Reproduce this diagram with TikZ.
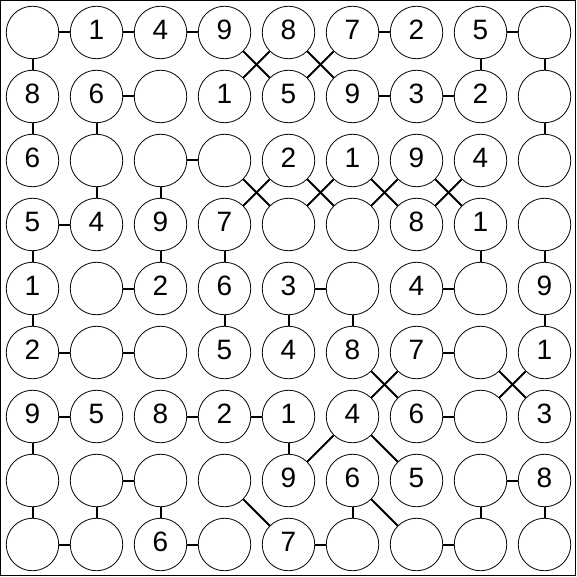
\documentclass[tikz,border=0pt]{standalone}
\usepackage{fontspec}
\setmainfont{Liberation Sans}
\usepackage{tikz}

\begin{document}
\begin{tikzpicture}[x=1pt,y=-1pt]
\useasboundingbox (0,0) rectangle (577,577);
\draw[line width=1pt] (0.5,0.5) rectangle (575.5,575.5);

\begin{scope}[every node/.style={circle,draw,line width=0.8pt,minimum size=52.5pt,
              inner sep=0pt,text depth=6pt,font=\fontsize{28}{28}\selectfont}]
  \foreach \r/\row in {1/{{},1,4,9,8,7,2,5,{}},
                       2/{8,6,{},1,5,9,3,2,{}},
                       3/{6,{},{},{},2,1,9,4,{}},
                       4/{5,4,9,7,{},{},8,1,{}},
                       5/{1,{},2,6,3,{},4,{},9},
                       6/{2,{},{},5,4,8,7,{},1},
                       7/{9,5,8,2,1,4,6,{},3},
                       8/{{},{},{},{},9,6,5,{},8},
                       9/{{},{},6,{},7,{},{},{},{}}}
    \foreach \v [count=\c] in \row
      \node (n\r\c) at (64*\c-31.5,64*\r-31.5) {\v};
\end{scope}

\begin{scope}[every edge/.style={draw=black, line width=2pt}]
    % across
    \path (n11) edge (n12) (n12) edge (n13) (n13) edge (n14) (n16) edge (n17) (n18) edge (n19);
    \path (n22) edge (n23) (n26) edge (n27) (n27) edge (n28);
    \path (n33) edge (n34) (n41) edge (n42);
    \path (n52) edge (n53) (n55) edge (n56) (n57) edge (n58);
    \path (n61) edge (n62) (n62) edge (n63) (n67) edge (n68);
    \path (n71) edge (n72) (n73) edge (n74) (n74) edge (n75) (n77) edge (n78);
    \path (n82) edge (n83) (n88) edge (n89);
    \path (n91) edge (n92) (n93) edge (n94) (n95) edge (n96) (n97) edge (n98);
    % down
    \path (n11) edge (n21) (n21) edge (n31) (n41) edge (n51) (n51) edge (n61) (n71) edge (n81) (n81) edge (n91);
    \path (n22) edge (n32) (n32) edge (n42) (n82) edge (n92);
    \path (n33) edge (n43) (n43) edge (n53) (n83) edge (n93);
    \path (n44) edge (n54) (n54) edge (n64);
    \path (n55) edge (n65) (n75) edge (n85);
    \path (n56) edge (n66) (n86) edge (n96);
    \path (n18) edge (n28) (n48) edge (n58) (n88) edge (n98);
    \path (n19) edge (n29) (n29) edge (n39) (n49) edge (n59) (n59) edge (n69) (n89) edge (n99);
    % diagonal
    \path (n14) edge (n25) (n24) edge (n15) (n15) edge (n26) (n25) edge (n16);
    \path (n34) edge (n45) (n44) edge (n35) (n35) edge (n46) (n45) edge (n36);
    \path (n36) edge (n47) (n46) edge (n37) (n37) edge (n48) (n47) edge (n38);
    \path (n66) edge (n77) (n76) edge (n67) (n68) edge (n79) (n78) edge (n69);
    \path (n76) edge (n85) (n76) edge (n87);
    \path (n84) edge (n95) (n86) edge (n97);
\end{scope}

\end{tikzpicture}
\end{document}
